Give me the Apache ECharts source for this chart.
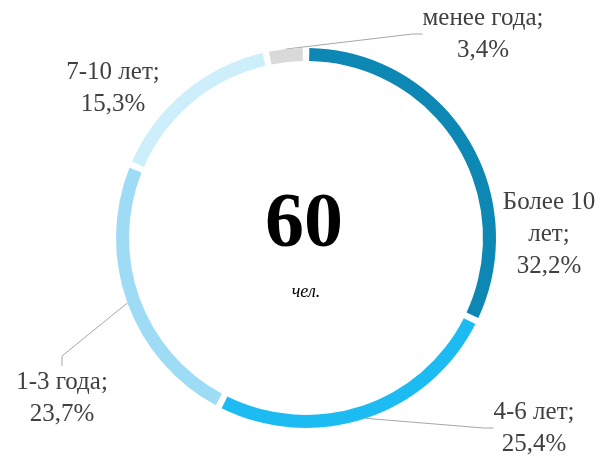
<!DOCTYPE html>
<html>
<head>
<meta charset="utf-8">
<script src="https://cdn.jsdelivr.net/npm/echarts@6/dist/echarts.min.js"></script>
<style>
  html, body { margin: 0; padding: 0; background: #fff; }
  #chart { width: 604px; height: 458px; }
</style>
</head>
<body>
<div id="chart"></div>
<script>
// стаж сотрудников
var categories = ['Более 10\nлет', '4-6 лет', '1-3 года', '7-10 лет', 'менее года'];
var shares = [32.2, 25.4, 23.7, 15.3, 3.4];
var colors = ['#0d87b4', '#1cbcf2', '#9edcf6', '#cdeefb', '#d9d9d9'];
var total = 60;
var withLine = [false, true, true, false, true];

// где стоят подписи (центр текста)
var labelPos = [
  [549, 234],
  [534, 428],
  [62, 398],
  [113, 88],
  [483, 34]
];

var serif = '"Liberation Serif", "DejaVu Serif", serif';

var dom = document.getElementById('chart');
var myChart = echarts.init(dom);

var option = {
  animation: false,
  graphic: [
    {
      type: 'text',
      style: { text: String(total), font: 'bold 78px ' + serif, fill: '#000', textAlign: 'center' },
      x: 304,
      y: 187
    },
    {
      type: 'text',
      style: { text: 'чел.', font: 'italic 18px ' + serif, fill: '#000', textAlign: 'center' },
      x: 306,
      y: 283
    }
  ],
  series: [
    {
      type: 'pie',
      center: [306, 238],
      radius: [177, 190],
      startAngle: 90,
      clockwise: true,
      padAngle: 2,
      silent: true,
      label: {
        show: true,
        position: 'outside',
        fontFamily: serif,
        fontSize: 25,
        lineHeight: 32,
        color: '#404040',
        formatter: function (p) {
          return categories[p.dataIndex] + ';\n' + String(p.value).replace('.', ',') + '%';
        }
      },
      labelLine: {
        show: true,
        length: 10,
        length2: 10,
        lineStyle: { color: '#a6a6a6', width: 1 }
      },
      labelLayout: function (params) {
        var pos = labelPos[params.dataIndex];
        return {
          x: pos[0],
          y: pos[1],
          align: 'center',
          verticalAlign: 'middle'
        };
      },
      data: shares.map(function (v, i) {
        return {
          value: v,
          name: categories[i],
          itemStyle: { color: colors[i] },
          labelLine: { show: withLine[i] }
        };
      })
    }
  ]
};

if (option && typeof option === 'object') {
  myChart.setOption(option, true);
}
</script>
</body>
</html>
